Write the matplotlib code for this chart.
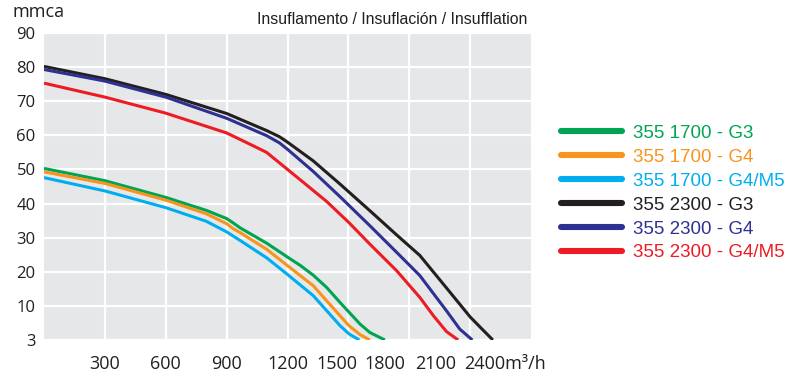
import matplotlib
matplotlib.use("Agg")
import matplotlib.pyplot as plt
import matplotlib.transforms as mtransforms

# Curve data (airflow m3/h, pressure mmca)
x_1700_g3 = [0, 300, 600, 800, 900, 933, 966, 1097, 1200, 1262, 1327, 1393, 1459, 1557, 1606, 1680]
y_1700_g3 = [50.3, 46.7, 41.8, 38.0, 35.6, 34.3, 32.9, 28.4, 24.3, 21.9, 19.0, 15.4, 11.0, 4.7, 2.2, 0]

x_1700_g4 = [0, 300, 600, 800, 900, 933, 966, 1097, 1200, 1327, 1393, 1459, 1503, 1557, 1606]
y_1700_g4 = [49.3, 45.9, 41.0, 37.0, 34.1, 32.6, 31.5, 26.6, 21.8, 15.9, 11.5, 7.1, 4.2, 1.6, 0]

x_1700_m5 = [0, 300, 600, 800, 900, 966, 1097, 1200, 1327, 1393, 1459, 1503, 1554]
y_1700_m5 = [47.6, 43.7, 38.8, 34.8, 31.7, 29.2, 24.1, 19.2, 13.0, 8.6, 4.2, 1.8, 0]

x_2300_g3 = [0, 300, 600, 900, 1097, 1160, 1200, 1327, 1459, 1606, 1738, 1852, 1983, 2101, 2212]
y_2300_g3 = [80.2, 76.6, 72.0, 66.4, 61.4, 59.6, 58.0, 52.5, 45.7, 37.9, 30.8, 24.8, 15.3, 6.7, 0]

x_2300_g4 = [0, 300, 600, 900, 1097, 1160, 1200, 1327, 1459, 1606, 1738, 1852, 1983, 2049, 2111]
y_2300_g4 = [79.3, 75.9, 71.2, 65.0, 59.9, 57.8, 55.9, 49.4, 42.0, 33.5, 25.7, 18.9, 8.6, 3.2, 0]

x_2300_m5 = [0, 300, 600, 900, 1032, 1097, 1163, 1262, 1393, 1503, 1606, 1738, 1852, 1918, 1983, 2041]
y_2300_m5 = [75.3, 71.2, 66.5, 60.7, 56.9, 55.0, 51.8, 47.0, 40.6, 34.4, 28.1, 20.3, 12.5, 7.2, 2.5, 0]

labels = ["355 1700 - G3", "355 1700 - G4", "355 1700 - G4/M5",
          "355 2300 - G3", "355 2300 - G4", "355 2300 - G4/M5"]
colors = ["#00a551", "#f7941d", "#00aeef", "#231f20", "#2e3192", "#ed1c24"]

y_ticks = [0, 10, 20, 30, 40, 50, 60, 70, 80, 90]
y_tick_labels = ["3", "10", "20", "30", "40", "50", "60", "70", "80", "90"]
x_ticks = [300, 600, 900, 1200, 1500, 1800, 2100, 2400]
x_tick_labels = ["300", "600", "900", "1200", "1500", "1800", "2100", "2400m³/h"]
# the reference squeezes the last labels leftwards (pixels)
x_label_shift = [0, 0, 0, 0, -11, -24, -34, -67]

series = [(x_1700_g3, y_1700_g3), (x_1700_g4, y_1700_g4), (x_1700_m5, y_1700_m5),
          (x_2300_g3, y_2300_g3), (x_2300_g4, y_2300_g4), (x_2300_m5, y_2300_m5)]

fig = plt.figure(figsize=(8.06, 3.74), dpi=100)
ax = fig.add_axes([0.0546, 0.0909, 0.6042, 0.8209])
ax.set_facecolor("#e6e7e8")

for (xs, ys), c, lab in zip(series, colors, labels):
    ax.plot(xs, ys, color=c, lw=2.2, label=lab, solid_joinstyle="round",
            solid_capstyle="butt")

ax.set_xlim(0, 2400)
ax.set_ylim(0, 90)
ax.set_xticks(x_ticks[:-1])
ax.set_yticks(y_ticks)
ax.set_yticklabels(y_tick_labels, fontsize=12, family="Open Sans", color="#231f20")
ax.tick_params(axis="both", length=0)
ax.tick_params(axis="y", pad=6)
ax.tick_params(axis="x", labelbottom=False)
ax.grid(True, color="white", lw=1.6)
ax.set_axisbelow(True)
for s in ax.spines.values():
    s.set_visible(False)

# x labels, placed below the axis with the reference's offsets
trans = mtransforms.blended_transform_factory(ax.transData, ax.transAxes)
for xv, lab, dx in zip(x_ticks, x_tick_labels, x_label_shift):
    off = mtransforms.ScaledTranslation(dx / 100, 0, fig.dpi_scale_trans)
    ha = "left" if lab.endswith("h") else "center"
    ax.text(xv, -0.05, lab, transform=trans + off, ha=ha, va="top",
            fontsize=13, family="Open Sans", color="#231f20")

fig.text(12 / 806, 1 - 12 / 374, "mmca", ha="left", va="center",
         fontsize=13, family="Open Sans", color="#231f20")
fig.text(527 / 806, 1 - 19 / 374, "Insuflamento / Insuflación / Insufflation",
         ha="right", va="center", fontsize=11.4, family="Liberation Sans",
         color="#231f20")

leg = fig.legend(loc="upper left", bbox_to_anchor=(544 / 806, 1 - 108 / 374),
                 frameon=False, handlelength=3.25, handletextpad=0.6,
                 labelspacing=0.36, prop={"family": "Liberation Sans", "size": 13.5})
for line, c in zip(leg.get_lines(), colors):
    line.set_linewidth(4.4)
    line.set_solid_capstyle("round")
for t, c in zip(leg.get_texts(), colors):
    t.set_color(c)

fig.savefig("out.png", dpi=100)
